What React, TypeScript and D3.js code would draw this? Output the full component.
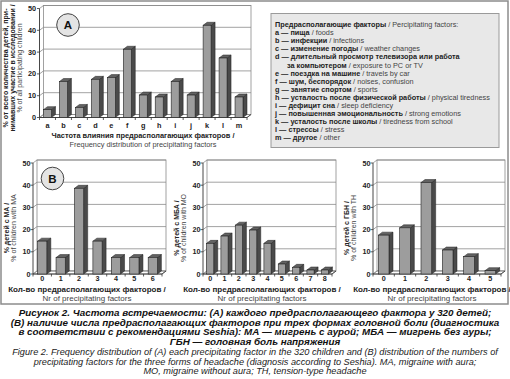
import React from 'react';
import * as d3 from 'd3';

const FONT = '"Liberation Sans", Arial, sans-serif';

const factorLetters = ['a', 'b', 'c', 'd', 'e', 'f', 'g', 'h', 'i', 'j', 'k', 'l', 'm'];
const factorValues = [3.6, 16.5, 4.6, 17.5, 18.3, 31.3, 10.3, 9.4, 16.5, 10.3, 42.3, 27.3, 9.4];

const maCategories = ['0', '1', '2', '3', '4', '5', '6'];
const maValues = [14.8, 7.4, 38.6, 14.8, 7.4, 7.4, 7.4];

const moCategories = ['0', '1', '2', '3', '4', '5', '6', '7', '8'];
const moValues = [13.8, 17.1, 22.0, 19.8, 13.8, 4.5, 3.0, 1.8, 1.8];

const thCategories = ['0', '1', '2', '3', '4', '5'];
const thValues = [17.5, 20.8, 41.2, 10.8, 7.8, 1.5];

const yTicks = [0, 10, 20, 30, 40, 50];

const legendTitleRu = 'Предрасполагающие факторы';
const legendTitleEn = ' / Percipitating factors:';
const legendRu = [
  'пища', 'инфекции', 'изменение погоды', 'длительный просмотр телевизора или работа',
  'поездка на машине', 'шум, беспорядок', 'занятие спортом',
  'усталость после физической работы', 'дефицит сна', 'повышенная эмоциональность',
  'усталость после школы', 'стрессы', 'другое',
];
const legendEn = [
  'foods', 'infections', 'weather changes', 'exposure to PC or TV', 'travels by car',
  'noises, confusion', 'sports', 'physical tiredness', 'sleep deficiency', 'strong emotions',
  'tiredness from school', 'stress', 'other',
];
const legendContinuation = 'за компьютером';

const captionRu = [
  'Рисунок 2. Частота встречаемости: (A) каждого предрасполагающего фактора у 320 детей;',
  '(B) наличие числа предрасполагающих факторов при трех формах головной боли (диагностика',
  'в соответствии с рекомендациями Seshia): МА — мигрень с аурой; МБА — мигрень без ауры;',
  'ГБН — головная боль напряжения',
];
const captionEn = [
  'Figure 2. Frequency distribution of (A) each precipitating factor in the 320 children and (B) distribution of the numbers of',
  'precipitating factors for the three forms of headache (diagnosis according to Seshia). MA, migraine with aura;',
  'MO, migraine without aura; TH, tension-type headache',
];

type ChartProps = {
  cats: string[];
  vals: number[];
  x0: number;
  x1: number;
  y0: number;
  y1: number;
  dx: number;
  dy: number;
  yLabelX: number;
  catLabelY: number;
  fs: number;
};

function Bar3D({ cats, vals, x0, x1, y0, y1, dx, dy, yLabelX, catLabelY, fs }: ChartProps) {
  const x = d3.scaleBand<string>().domain(cats).range([x0, x1]).paddingInner(0.5).paddingOuter(0.25);
  const y = d3.scaleLinear().domain([0, 50]).range([y0, y1]);
  const step = x.step();
  const bw = x.bandwidth();
  const grid = '#8a8a8a';
  const pts = (a: number[][]) => a.map((p) => p.join(',')).join(' ');
  return (
    <g>
      <rect x={x0 + dx} y={y(50) - dy} width={x1 - x0} height={y0 - y(50)} fill="#fff" stroke={grid} strokeWidth={0.8} />
      <polygon points={pts([[x0, y0], [x1, y0], [x1 + dx, y0 - dy], [x0 + dx, y0 - dy]])} fill="#fff" stroke={grid} strokeWidth={0.8} />
      {yTicks.map((t) => (
        <polyline key={t} points={pts([[x0, y(t)], [x0 + dx, y(t) - dy], [x1 + dx, y(t) - dy]])} fill="none" stroke={grid} strokeWidth={0.8} />
      ))}
      <line x1={x0} y1={y0} x2={x0} y2={y(50)} stroke="#333" strokeWidth={0.9} />
      <line x1={x0} y1={y0} x2={x1} y2={y0} stroke="#333" strokeWidth={0.9} />
      <line x1={x1} y1={y0} x2={x1 + dx} y2={y0 - dy} stroke="#333" strokeWidth={0.8} />
      {yTicks.map((t) => (
        <g key={'t' + t}>
          <line x1={x0 - 2.5} x2={x0} y1={y(t)} y2={y(t)} stroke="#333" strokeWidth={0.8} />
          <text x={yLabelX} y={y(t)} dy="0.35em" textAnchor="end" fontSize={fs} fontWeight="bold" fontFamily={FONT} fill="#222">
            {t}
          </text>
        </g>
      ))}
      {d3.range(cats.length + 1).map((i) => (
        <line key={'c' + i} x1={x0 + i * step} x2={x0 + i * step} y1={y0} y2={y0 + 2.5} stroke="#333" strokeWidth={0.8} />
      ))}
      {cats.map((c, i) => {
        const bx = x(c) as number;
        const by = y(vals[i]);
        return (
          <g key={c}>
            <polygon points={pts([[bx + bw, by], [bx + bw + dx, by - dy], [bx + bw + dx, y0 - dy], [bx + bw, y0]])} fill="#4a4a4a" stroke="#222" strokeWidth={0.5} />
            <polygon points={pts([[bx, by], [bx + dx, by - dy], [bx + bw + dx, by - dy], [bx + bw, by]])} fill="#626262" stroke="#222" strokeWidth={0.5} />
            <rect x={bx} y={by} width={bw} height={y0 - by} fill="#9d9d9d" stroke="#222" strokeWidth={0.6} />
            <text x={bx + bw / 2} y={catLabelY} textAnchor="middle" fontSize={fs} fontWeight="bold" fontFamily={FONT} fill="#222">
              {c}
            </text>
          </g>
        );
      })}
    </g>
  );
}

function RotTitle({ x, y, text, bold, fs }: { x: number; y: number; text: string; bold?: boolean; fs: number }) {
  return (
    <text transform={`translate(${x},${y}) rotate(-90)`} textAnchor="middle" dy="0.35em" fontSize={fs} fontWeight={bold ? 'bold' : 'normal'} fontFamily={FONT} fill={bold ? '#222' : '#444'}>
      {text}
    </text>
  );
}

function Badge({ cx, cy, label }: { cx: number; cy: number; label: string }) {
  return (
    <g>
      <circle cx={cx} cy={cy} r={11.3} fill="#e4e4e4" stroke="#444" strokeWidth={1} />
      <text x={cx} y={cy} dy="0.36em" textAnchor="middle" fontSize={11.5} fontWeight="bold" fontFamily={FONT} fill="#111">
        {label}
      </text>
    </g>
  );
}

function XTitle({ x, y, ru, en, fs }: { x: number; y: number; ru: string; en: string; fs: number }) {
  return (
    <g>
      <text x={x} y={y} textAnchor="middle" fontSize={fs} fontWeight="bold" fontFamily={FONT} fill="#222">{ru}</text>
      <text x={x} y={y + 9.7} textAnchor="middle" fontSize={fs} fontFamily={FONT} fill="#444">{en}</text>
    </g>
  );
}

export default function App() {
  const lfs = 7.3;
  const legendX = 275;
  const legendY0 = 27;
  const lstep = 8.1;
  const legendRows: { letter: string; ru: string; en: string; indent?: boolean }[] = [];
  factorLetters.forEach((l, i) => {
    if (l === 'd') {
      legendRows.push({ letter: l, ru: legendRu[i], en: '' });
      legendRows.push({ letter: '', ru: legendContinuation, en: legendEn[i], indent: true });
    } else {
      legendRows.push({ letter: l, ru: legendRu[i], en: legendEn[i] });
    }
  });
  const bfs = 7.2;
  const xtfs = 8;
  const xtRu = 'Кол-во предрасполагающих факторов /';
  const xtEn = 'Nr of precipitating factors';
  return (
    <svg width={510} height={379} style={{ position: 'absolute', left: 0, top: 0, background: '#fff' }}>
      <rect x={0} y={0} width={510} height={379} fill="#fff" />
      <rect x={1} y={1} width={507} height={303} fill="none" stroke="#8c8c8c" strokeWidth={1.5} />

      {/* Panel A */}
      <Bar3D cats={factorLetters} vals={factorValues} x0={39.5} x1={247} y0={117.5} y1={8.5} dx={4} dy={3} yLabelX={36} catLabelY={127.5} fs={7.3} />
      <Badge cx={68} cy={25} label="A" />
      <RotTitle x={6} y={68} text="% от всего количества детей, при-" bold fs={7} />
      <RotTitle x={12.7} y={68} text="нимавших участие в исследовании /" bold fs={7} />
      <RotTitle x={19.3} y={68} text="% of all participating children" fs={7} />
      <XTitle x={143} y={137.5} ru="Частота влияния предрасполагающих факторов /" en="Frequency distribution of precipitating factors" fs={7.4} />

      {/* Legend */}
      <rect x={271} y={13.5} width={228} height={134} fill="#e8e8e8" stroke="#9a9a9a" strokeWidth={1} />
      <text x={legendX} y={legendY0} fontSize={lfs} fontFamily={FONT} fill="#222">
        <tspan fontWeight="bold">{legendTitleRu}</tspan>
        <tspan fill="#444">{legendTitleEn}</tspan>
      </text>
      {legendRows.map((r, i) => (
        <text key={i} x={r.indent ? legendX + 12 : legendX} y={legendY0 + (i + 1) * lstep} fontSize={lfs} fontFamily={FONT} fill="#222">
          {r.letter ? <tspan fontWeight="bold">{r.letter + ' — '}</tspan> : null}
          <tspan fontWeight="bold">{r.ru}</tspan>
          {r.en ? <tspan fill="#444">{' / ' + r.en}</tspan> : null}
        </text>
      ))}

      {/* Panel B: MA */}
      <Bar3D cats={maCategories} vals={maValues} x0={33} x1={162} y0={274} y1={163} dx={4} dy={3} yLabelX={30.5} catLabelY={281} fs={bfs} />
      <Badge cx={52.5} cy={178.5} label="B" />
      <RotTitle x={7} y={228} text="% детей с МА /" bold fs={7} />
      <RotTitle x={13.5} y={228} text="% of children with MA" fs={7} />
      <XTitle x={87} y={291.5} ru={xtRu} en={xtEn} fs={xtfs} />

      {/* MO */}
      <Bar3D cats={moCategories} vals={moValues} x0={203} x1={332} y0={274} y1={163} dx={4} dy={3} yLabelX={200.5} catLabelY={281} fs={bfs} />
      <RotTitle x={177} y={228} text="% детей с МБА /" bold fs={7} />
      <RotTitle x={183.5} y={228} text="% of children with MO" fs={7} />
      <XTitle x={262} y={291.5} ru={xtRu} en={xtEn} fs={xtfs} />

      {/* TH */}
      <Bar3D cats={thCategories} vals={thValues} x0={373} x1={501} y0={274} y1={163} dx={4} dy={3} yLabelX={370.5} catLabelY={281} fs={bfs} />
      <RotTitle x={347} y={228} text="% детей с ГБН /" bold fs={7} />
      <RotTitle x={353.5} y={228} text="% of children with TH" fs={7} />
      <XTitle x={432} y={291.5} ru={xtRu} en={xtEn} fs={xtfs} />

      {/* Caption */}
      <g transform="translate(255,0) scale(1.07,1)">
        {captionRu.map((t, i) => (
          <text key={'r' + i} x={0} y={316 + i * 9.6} textAnchor="middle" fontSize={9.2} fontWeight="bold" fontStyle="italic" fontFamily={FONT} fill="#111">
            {t}
          </text>
        ))}
      </g>
      <g transform="translate(255,0) scale(1.07,1)">
        {captionEn.map((t, i) => (
          <text key={'e' + i} x={0} y={355 + i * 9.6} textAnchor="middle" fontSize={8.6} fontStyle="italic" fontFamily={FONT} fill="#222">
            {t}
          </text>
        ))}
      </g>
    </svg>
  );
}
